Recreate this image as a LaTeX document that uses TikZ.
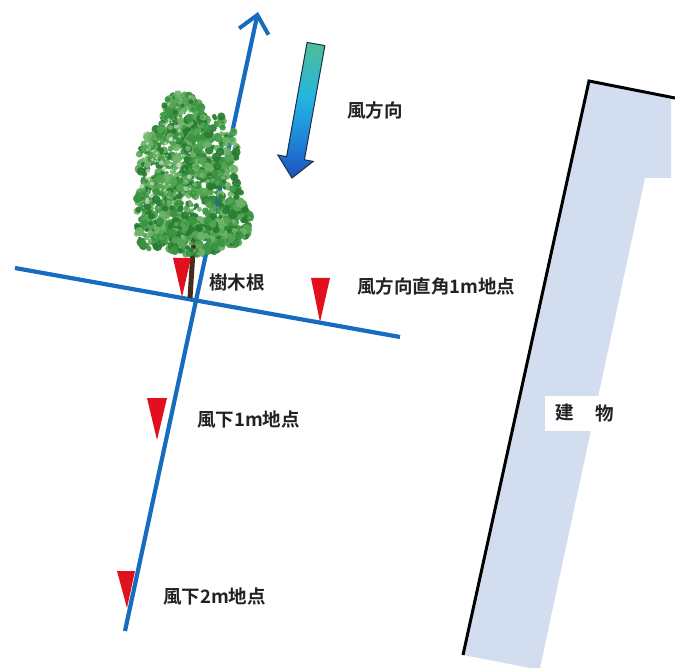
\documentclass[tikz,border=0pt]{standalone}
\usepackage{fontspec}
\newfontfamily\jp{Noto Sans CJK JP}[BoldFont={* Bold}]
\usetikzlibrary{arrows.meta}

\definecolor{axisblue}{RGB}{22,108,190}
\definecolor{markred}{RGB}{226,16,30}
\definecolor{bldfill}{RGB}{210,222,239}
\definecolor{txt}{RGB}{34,34,34}
\definecolor{leaf0}{RGB}{58,148,66}
\definecolor{leaf1}{RGB}{40,124,50}
\definecolor{leaf2}{RGB}{84,166,84}
\definecolor{leaf3}{RGB}{110,180,104}
\definecolor{trunk}{RGB}{70,44,28}

% wind arrow gradient: blue tip, cyan body, teal tail
\pgfdeclareverticalshading{windgrad}{100bp}{
  color(0bp)=(rgb,255:red,30;green,80;blue,190);
  color(25bp)=(rgb,255:red,30;green,80;blue,190);
  color(36bp)=(rgb,255:red,30;green,122;blue,212);
  color(54bp)=(rgb,255:red,34;green,180;blue,226);
  color(75bp)=(rgb,255:red,78;green,190;blue,150);
  color(100bp)=(rgb,255:red,78;green,190;blue,150)}

\tikzset{
  axisline/.style={draw=axisblue, line width=4.2pt},
  marker/.style={fill=markred},
  lbl/.style={font=\jp\bfseries\fontsize{18.5}{18.5}\selectfont, text=txt, inner sep=0pt, anchor=west},
  wall/.style={draw=black, line width=3pt, line join=miter},
}

\begin{document}
\begin{tikzpicture}[x=1pt,y=-1pt]
\useasboundingbox (0,0) rectangle (675,668);

% building footprint
\fill[bldfill] (589,81) -- (671,97) -- (671,178) -- (645,178) -- (540,668)
  -- (530,668) -- (463,655) -- cycle;
\draw[wall] (463,655) -- (589,81) -- (675,98);
\node[fill=white, minimum width=78pt, minimum height=35pt, inner sep=0pt] (bldlabel) at (584,413) {};
\node[lbl, anchor=center] (ken) at (565,413) {建};
\node[lbl, anchor=center] (butsu) at (605,413) {物};

% wind axis and cross line
\coordinate (axbot) at (125,631);
\coordinate (axtop) at (258,12);
\coordinate (crl) at (15,268);
\coordinate (crr) at (400,337);
\draw[axisline] (crl) -- (crr);

% tree trunk
\draw[trunk, line width=5pt] (194,236) -- (190,298);

\draw[axisline, -{Straight Barb[length=17pt,width=30pt,line width=4pt]}] (axbot) -- (axtop);

% tree canopy built from overlapping leaf clusters
\begin{scope}[opacity=0.92]
\pgfmathsetseed{42}
\foreach \cx/\cy/\rx/\ry/\n in {
    183/118/22/26/170, 168/160/30/34/240, 212/150/26/36/220,
    160/205/24/30/200, 205/200/38/38/310, 236/220/14/24/110,
    200/238/40/18/210, 150/232/14/18/70}{
  \foreach \i in {1,...,\n}{
    \pgfmathsetmacro{\ang}{rnd*360}
    \pgfmathsetmacro{\rad}{rnd^0.45}
    \pgfmathsetmacro{\px}{\cx+\rx*\rad*cos(\ang)}
    \pgfmathsetmacro{\py}{\cy+\ry*\rad*sin(\ang)}
    \pgfmathsetmacro{\sz}{1.2+rnd*3.6}
    \pgfmathtruncatemacro{\c}{min(3,int(rnd*4))}
    \fill[leaf\c] (\px,\py) circle[radius=\sz pt];
  }
}
\foreach \i in {1,...,70}{
  \pgfmathsetmacro{\px}{140+rnd*50}
  \pgfmathsetmacro{\py}{95+rnd*110}
  \pgfmathsetmacro{\sz}{0.8+rnd*1.8}
  \fill[white, opacity=0.5] (\px,\py) circle[radius=\sz pt];
}
\end{scope}

% measuring points
\fill[marker] (173,258) -- (191,258) -- (182,297) -- cycle;
\fill[marker] (311,278) -- (330,278) -- (320,322) -- cycle;
\fill[marker] (147,398) -- (167,398) -- (157,440) -- cycle;
\fill[marker] (117,571) -- (135,571) -- (127,608) -- cycle;

% wind direction arrow
\shade[shading=windgrad,
  draw={rgb,255:red,30;green,45;blue,70}, line width=1pt, line join=miter]
  (307.1,42.4) -- (324.9,45.6) -- (304.4,159.8) -- (313.2,161.4) -- (292,178)
  -- (277.8,155.0) -- (286.6,156.6) -- cycle;

% labels
\node[lbl] (wind) at (347,111) {風方向};
\node[lbl] (root) at (209,282) {樹木根};
\node[lbl] (perp) at (357,286) {風方向直角1m地点};
\node[lbl] (down1) at (197,419) {風下1m地点};
\node[lbl] (down2) at (163,596) {風下2m地点};
\end{tikzpicture}
\end{document}
